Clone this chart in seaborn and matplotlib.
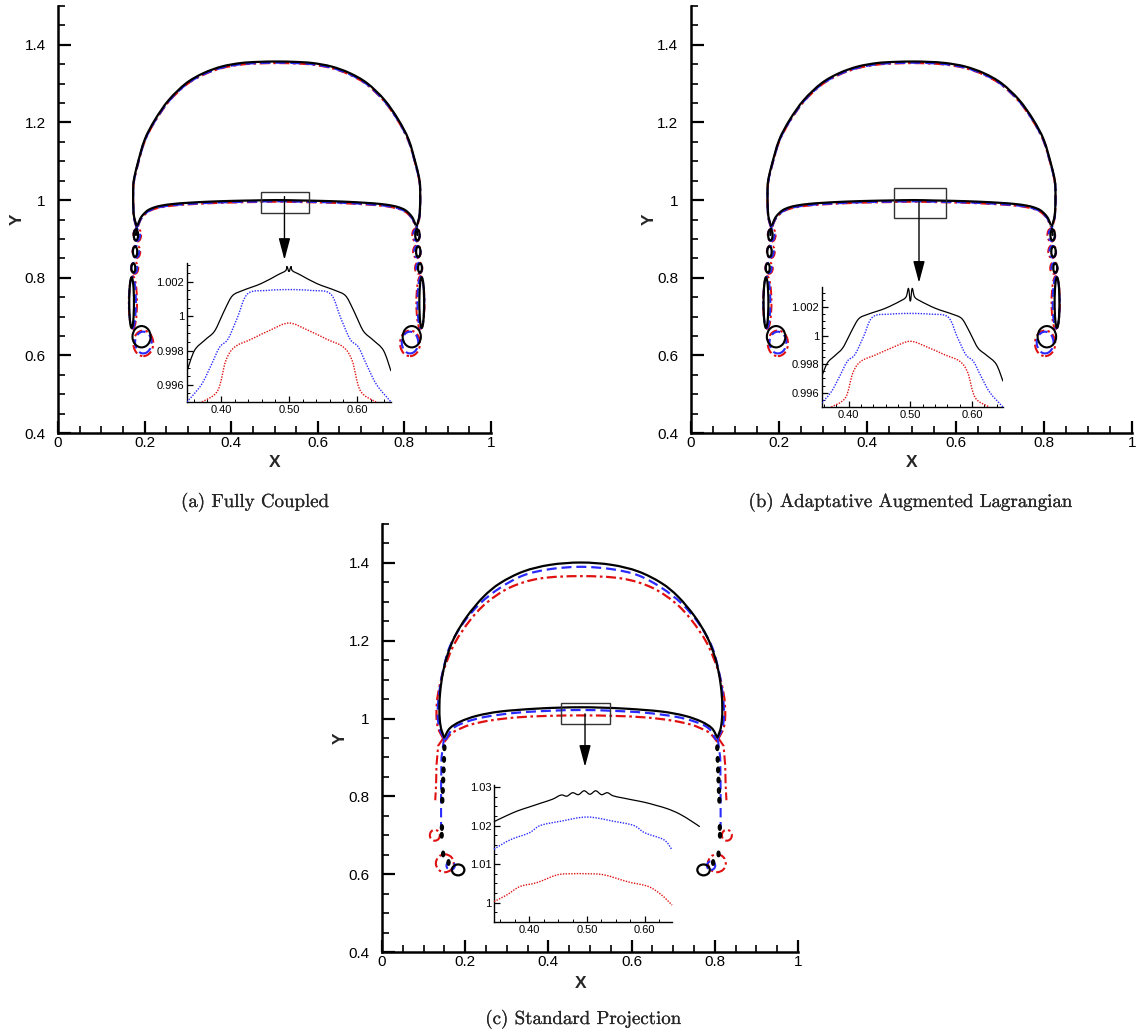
import numpy as np
import matplotlib
matplotlib.use("Agg")
import matplotlib.pyplot as plt
import matplotlib.patheffects as pe
import seaborn as sns
from matplotlib.patches import Ellipse, Rectangle, PathPatch
from matplotlib.path import Path
from matplotlib.ticker import MultipleLocator, FuncFormatter

sns.set_theme(style="ticks")
plt.rcParams["font.family"] = ["Liberation Sans", "DejaVu Sans"]

# ---------------- data ----------------
PANEL_TITLES = ["(a) Fully Coupled", "(b) Adaptative Augmented Lagrangian", "(c) Standard Projection"]
SERIES_COLORS = ["black", "#2a2aff", "#e01010"]

# panel (a)/(b): left half of bubble (junction -> top), mirrored about the center
A_CENTER = 0.505
B_CENTER = 0.500
A_DOME_X = [0.182, 0.176, 0.174, 0.1735, 0.175, 0.183, 0.200, 0.224, 0.256, 0.296, 0.336, 0.378, 0.422, 0.461, 0.505]
A_DOME_Y = [0.932, 0.955, 0.980, 1.020, 1.050, 1.090, 1.155, 1.207, 1.258, 1.301, 1.327, 1.344, 1.353, 1.356, 1.357]
A_FILM_X = [0.184, 0.190, 0.197, 0.208, 0.222, 0.240, 0.266, 0.300, 0.350, 0.405, 0.450, 0.505]
A_FILM_Y = [0.935, 0.952, 0.963, 0.974, 0.981, 0.986, 0.990, 0.993, 0.996, 0.998, 0.999, 1.000]
A_SERIES_DY = [0.0, -0.003, -0.004]
A_DROP_X = [0.180, 0.178, 0.174, 0.170]
A_DROP_Y = [0.910, 0.867, 0.825, 0.736]
A_DROP_W = [0.010, 0.010, 0.009, 0.011]
A_DROP_H = [0.028, 0.027, 0.024, 0.130]
A_LOOP_K = [0.193, 0.648, 0.042, 0.055]
A_LOOP_C = [0.197, 0.631, 0.046, 0.066]

# panel (c)
C_CENTER = 0.478
C_DOME_X = [
    [0.151, 0.143, 0.139, 0.138, 0.140, 0.146, 0.156, 0.175, 0.204, 0.244, 0.284, 0.340, 0.404, 0.478],
    [0.149, 0.138, 0.134, 0.135, 0.138, 0.146, 0.163, 0.195, 0.236, 0.284, 0.340, 0.404, 0.478],
    [0.147, 0.135, 0.131, 0.132, 0.135, 0.142, 0.151, 0.175, 0.212, 0.252, 0.308, 0.380, 0.478],
]
C_DOME_Y = [
    [0.949, 0.970, 0.996, 1.030, 1.070, 1.115, 1.159, 1.211, 1.262, 1.313, 1.348, 1.378, 1.395, 1.401],
    [0.949, 0.975, 1.005, 1.040, 1.070, 1.120, 1.185, 1.245, 1.296, 1.336, 1.368, 1.384, 1.390],
    [0.949, 0.975, 1.005, 1.040, 1.065, 1.100, 1.133, 1.194, 1.253, 1.298, 1.337, 1.360, 1.366],
]
C_FILM_X = [
    [0.151, 0.163, 0.188, 0.228, 0.284, 0.364, 0.428, 0.478],
    [0.153, 0.171, 0.204, 0.252, 0.324, 0.404, 0.478],
    [0.150, 0.165, 0.180, 0.212, 0.260, 0.324, 0.404, 0.478],
]
C_FILM_Y = [
    [0.953, 0.975, 0.992, 1.007, 1.018, 1.025, 1.028, 1.029],
    [0.945, 0.975, 0.992, 1.005, 1.015, 1.020, 1.022],
    [0.940, 0.960, 0.970, 0.984, 0.995, 1.003, 1.007, 1.008],
]
C_DROP_X = [0.150, 0.149, 0.148, 0.147, 0.146, 0.145, 0.144, 0.1435, 0.147, 0.160]
C_DROP_Y = [0.925, 0.895, 0.868, 0.842, 0.815, 0.790, 0.720, 0.700, 0.652, 0.630]
C_LOOP_K = [0.183, 0.611, 0.030, 0.028]
C_TAIL_R_X = [0.147, 0.135, 0.131, 0.130, 0.128]
C_TAIL_R_Y = [0.949, 0.930, 0.880, 0.830, 0.790]
C_TAIL_B_X = [0.149, 0.143, 0.142, 0.142]
C_TAIL_B_Y = [0.949, 0.900, 0.820, 0.720]
C_RINGS_R = [[0.127, 0.700, 0.024, 0.028], [0.151, 0.628, 0.043, 0.046]]
C_RINGS_B = [[0.165, 0.622, 0.020, 0.022]]

# insets
IA_K_X = [0.350, 0.361, 0.376, 0.390, 0.400, 0.407, 0.417, 0.432, 0.459, 0.483, 0.495, 0.497, 0.500, 0.503, 0.505, 0.517, 0.541, 0.568, 0.583, 0.593, 0.600, 0.610, 0.624, 0.639, 0.650]
IA_K_Y = [0.9968, 0.9980, 0.9986, 0.9991, 0.9999, 1.0005, 1.0012, 1.0015, 1.0019, 1.0024, 1.00265, 1.0029, 1.0026, 1.0029, 1.00265, 1.0024, 1.0019, 1.0015, 1.0012, 1.0005, 0.9999, 0.9991, 0.9986, 0.9980, 0.9968]
IB_K_X = [0.357, 0.366, 0.378, 0.390, 0.400, 0.407, 0.417, 0.432, 0.459, 0.483, 0.493, 0.497, 0.500, 0.503, 0.507, 0.517, 0.541, 0.568, 0.583, 0.593, 0.600, 0.610, 0.624, 0.639, 0.650]
IB_K_Y = [0.9972, 0.9981, 0.9986, 0.9991, 0.9999, 1.0005, 1.0012, 1.0015, 1.0019, 1.0024, 1.0027, 1.0033, 1.0024, 1.0033, 1.0027, 1.0024, 1.0019, 1.0015, 1.0012, 1.0005, 0.9999, 0.9991, 0.9986, 0.9980, 0.9968]
IA_B_X = [0.350, 0.371, 0.385, 0.398, 0.410, 0.424, 0.439, 0.468, 0.500, 0.532, 0.561, 0.576, 0.590, 0.602, 0.615, 0.629, 0.650]
IA_B_Y = [0.9950, 0.9960, 0.9971, 0.9982, 0.99865, 0.9999, 1.0013, 1.0015, 1.00155, 1.0015, 1.0013, 0.9999, 0.99865, 0.9982, 0.9971, 0.9960, 0.9950]
IA_R_X = [0.372, 0.395, 0.407, 0.420, 0.444, 0.473, 0.500, 0.527, 0.556, 0.580, 0.593, 0.605, 0.628]
IA_R_Y = [0.9950, 0.99565, 0.9974, 0.9982, 0.99865, 0.9992, 0.9996, 0.9992, 0.99865, 0.9982, 0.9974, 0.99565, 0.9950]
IC_K_X = [0.339, 0.360, 0.380, 0.400, 0.420, 0.440, 0.455, 0.465, 0.475, 0.485, 0.495, 0.505, 0.515, 0.525, 0.535, 0.545, 0.560, 0.580, 0.600, 0.620, 0.640, 0.660, 0.680, 0.695]
IC_K_Y = [1.0210, 1.0225, 1.0238, 1.0248, 1.0258, 1.0268, 1.0279, 1.0276, 1.0285, 1.0280, 1.0290, 1.0281, 1.0290, 1.0280, 1.0285, 1.0277, 1.0272, 1.0266, 1.0260, 1.0252, 1.0243, 1.0230, 1.0212, 1.0197]
IC_B_X = [0.339, 0.367, 0.400, 0.419, 0.454, 0.500, 0.546, 0.581, 0.600, 0.633, 0.647]
IC_B_Y = [1.0139, 1.0163, 1.0181, 1.0200, 1.0211, 1.0222, 1.0211, 1.0200, 1.0181, 1.0163, 1.0137]
IC_R_X = [0.339, 0.361, 0.384, 0.413, 0.448, 0.472, 0.500, 0.530, 0.571, 0.606, 0.629, 0.647]
IC_R_Y = [1.0003, 1.0020, 1.0042, 1.0052, 1.0072, 1.0075, 1.0075, 1.0072, 1.0054, 1.0042, 1.0020, 0.9994]

# zoom boxes [x0, y0, x1, y1] and arrows [x, y_start, y_tip]
RECT_A = [0.468, 0.966, 0.580, 1.022]
RECT_B = [0.460, 0.954, 0.578, 1.031]
RECT_C = [0.430, 0.986, 0.548, 1.041]
ARROW_A = [0.523, 1.009, 0.846]
ARROW_B = [0.517, 0.995, 0.787]
ARROW_C = [0.488, 1.012, 0.876]

# ---------------- drawing helpers ----------------
W, H = 1143, 1032
fig = plt.figure(figsize=(W / 100, H / 100), dpi=100)


def box(l, t, r, b):
    return [l / W, 1 - b / H, (r - l) / W, (b - t) / H]


MAIN_STYLES = [("-", 1.6), ((0, (4.5, 2.2)), 1.6), ((0, (4.5, 1.6, 1.2, 1.6)), 1.6)]
INSET_STYLES = [("-", 0.9), ((0, (1, 1)), 1.0), ((0, (1, 1)), 1.0)]


def line(ax, x, y, color, ls, lw, z=3):
    sns.lineplot(x=np.asarray(x, float), y=np.asarray(y, float), sort=False, estimator=None,
                 color=color, linestyle=ls, linewidth=lw, ax=ax, zorder=z)


def smooth_path(xs, ys):
    # smooth curve through the given points, drawn by matplotlib as Bezier segments
    P = np.column_stack([np.asarray(xs, float), np.asarray(ys, float)])
    n = len(P)
    verts = [P[0]]
    codes = [Path.MOVETO]
    for i in range(n - 1):
        p0 = P[i - 1] if i > 0 else P[i]
        p1, p2 = P[i], P[i + 1]
        p3 = P[i + 2] if i + 2 < n else P[i + 1]
        verts += [p1 + (p2 - p0) / 6.0, p2 - (p3 - p1) / 6.0, p2]
        codes += [Path.CURVE4] * 3
    return Path(verts, codes)


def curve(ax, xs, ys, color, ls, lw, z=3, clip=True):
    ax.add_patch(PathPatch(smooth_path(xs, ys), facecolor="none", edgecolor=color, linestyle=ls,
                           linewidth=lw, zorder=z, clip_on=clip))


def mirror(xs, ys, c):
    fx = list(xs) + [2 * c - v for v in reversed(xs[:-1])]
    fy = list(ys) + list(reversed(ys[:-1]))
    return fx, fy


def ell(ax, cx, cy, w, h, color, ls, lw, fill=False, z=3):
    ax.add_patch(Ellipse((cx, cy), w, h, facecolor=color if fill else "none", edgecolor=color,
                         linestyle=ls, linewidth=lw, zorder=z))


def style_main(ax, ylab_x, xlab_x=0.5, xlab_y=-0.052):
    ax.set_xlim(0, 1)
    ax.set_ylim(0.4, 1.5)
    sns.despine(ax=ax)
    for s in ["left", "bottom"]:
        ax.spines[s].set_linewidth(1.8)
        ax.spines[s].set_color("black")
    ax.xaxis.set_major_locator(MultipleLocator(0.2))
    ax.xaxis.set_minor_locator(MultipleLocator(0.05))
    ax.yaxis.set_major_locator(MultipleLocator(0.2))
    ax.yaxis.set_minor_locator(MultipleLocator(0.05))
    fmt = FuncFormatter(lambda v, p: f"{v:g}")
    ax.xaxis.set_major_formatter(fmt)
    ax.yaxis.set_major_formatter(fmt)
    ax.tick_params(which="major", direction="in", length=9, width=1.6, labelsize=11, colors="black")
    ax.tick_params(axis="x", which="major", pad=2)
    ax.tick_params(axis="y", which="major", pad=9)
    ax.tick_params(which="minor", direction="in", length=5, width=1.2, colors="black")
    ax.set_xlabel("X", fontweight="bold", fontsize=12.5)
    ax.set_ylabel("Y", fontweight="bold", fontsize=12.5)
    ax.yaxis.set_label_coords(ylab_x, 0.5)
    ax.xaxis.set_label_coords(xlab_x, xlab_y)
    ax.set_facecolor("white")


def style_inset(ax, xlim, ylim, ymaj, ymin, xmin, yfmt):
    ax.set_xlim(*xlim)
    ax.set_ylim(*ylim)
    ax.set_facecolor("none")
    sns.despine(ax=ax)
    for s in ["left", "bottom"]:
        ax.spines[s].set_linewidth(1.0)
        ax.spines[s].set_color("black")
    ax.set_xticks([0.40, 0.50, 0.60])
    ax.xaxis.set_minor_locator(MultipleLocator(xmin))
    ax.yaxis.set_major_locator(MultipleLocator(ymaj))
    ax.yaxis.set_minor_locator(MultipleLocator(ymin))
    ax.xaxis.set_major_formatter(FuncFormatter(lambda v, p: f"{v:.2f}"))
    ax.yaxis.set_major_formatter(FuncFormatter(yfmt))
    ax.tick_params(which="major", direction="in", length=4, width=0.9, labelsize=8, pad=2, colors="black")
    ax.tick_params(which="minor", direction="in", length=2, width=0.7, colors="black")
    ax.set_xlabel("")
    ax.set_ylabel("")


def draw_ab(ax, center):
    for i, col in enumerate(SERIES_COLORS):
        ls, lw = MAIN_STYLES[i]
        dy = A_SERIES_DY[i]
        dx, dyy = mirror(A_DOME_X, [v + dy for v in A_DOME_Y], center)
        curve(ax, dx, dyy, col, ls, lw, z=5 - i)
        fx, fy = mirror(A_FILM_X, [v + dy for v in A_FILM_Y], center)
        curve(ax, fx, fy, col, ls, lw, z=5 - i)
    for side in [1, -1]:
        def X(v):
            return v if side == 1 else 2 * center - v
        for x, y, w, h in zip(A_DROP_X, A_DROP_Y, A_DROP_W, A_DROP_H):
            ell(ax, X(x + 0.003), y, w + 0.008, h + 0.006, SERIES_COLORS[2], MAIN_STYLES[2][0], 1.4, z=3)
            ell(ax, X(x + 0.002), y, w + 0.005, h + 0.003, SERIES_COLORS[1], MAIN_STYLES[1][0], 1.4, z=3)
            ell(ax, X(x), y, w, h, "black", "-", 1.6, z=4)
        line(ax, [X(A_DOME_X[0]), X(A_DROP_X[0])], [A_DOME_Y[0], A_DROP_Y[0]], "black", "-", 1.6)
        ell(ax, X(A_LOOP_K[0]), A_LOOP_K[1], A_LOOP_K[2], A_LOOP_K[3], "black", "-", 1.5, z=4)
        ell(ax, X(A_LOOP_C[0]), A_LOOP_C[1], A_LOOP_C[2], A_LOOP_C[3], SERIES_COLORS[2], MAIN_STYLES[2][0], 1.5)
        ell(ax, X(A_LOOP_C[0]), A_LOOP_C[1] + 0.002, A_LOOP_C[2] - 0.008, A_LOOP_C[3] - 0.01,
            SERIES_COLORS[1], MAIN_STYLES[1][0], 1.5)


def draw_c(ax):
    c = C_CENTER
    for i, col in enumerate(SERIES_COLORS):
        ls, lw = MAIN_STYLES[i]
        dx, dy = mirror(C_DOME_X[i], C_DOME_Y[i], c)
        curve(ax, dx, dy, col, ls, lw, z=5 - i)
        fx, fy = mirror(C_FILM_X[i], C_FILM_Y[i], c)
        curve(ax, fx, fy, col, ls, lw, z=5 - i)
    for side in [1, -1]:
        def X(v):
            return v if side == 1 else 2 * c - v
        line(ax, [X(v) for v in C_TAIL_R_X], C_TAIL_R_Y, SERIES_COLORS[2], MAIN_STYLES[2][0], 1.5)
        line(ax, [X(v) for v in C_TAIL_B_X], C_TAIL_B_Y, SERIES_COLORS[1], MAIN_STYLES[1][0], 1.5)
        for x, y in zip(C_DROP_X, C_DROP_Y):
            ell(ax, X(x), y, 0.007, 0.014, "black", "-", 1.0, fill=True, z=4)
        ell(ax, X(C_LOOP_K[0]), C_LOOP_K[1], C_LOOP_K[2], C_LOOP_K[3], "black", "-", 1.6, z=4)
        for r in C_RINGS_R:
            ell(ax, X(r[0]), r[1], r[2], r[3], SERIES_COLORS[2], MAIN_STYLES[2][0], 1.5)
        for r in C_RINGS_B:
            ell(ax, X(r[0]), r[1], r[2], r[3], SERIES_COLORS[1], MAIN_STYLES[1][0], 1.5)


def zoom_marks(ax, rect, arrow):
    ax.add_patch(Rectangle((rect[0], rect[1]), rect[2] - rect[0], rect[3] - rect[1], fill=False,
                           edgecolor="#333333", linewidth=1.0, zorder=6))
    ax.annotate("", xy=(arrow[0], arrow[2]), xytext=(arrow[0], arrow[1]),
                arrowprops=dict(arrowstyle="-|>,head_length=0.6,head_width=0.16", color="black",
                                lw=1.0, shrinkA=0, shrinkB=0, mutation_scale=22), zorder=7)


# ---------------- panels ----------------
axA = fig.add_axes(box(58, 6, 491, 433))
draw_ab(axA, A_CENTER)
zoom_marks(axA, RECT_A, ARROW_A)
style_main(axA, -0.076)

axB = fig.add_axes(box(691, 6, 1132, 433))
draw_ab(axB, B_CENTER)
zoom_marks(axB, RECT_B, ARROW_B)
style_main(axB, -0.077)

axC = fig.add_axes(box(382, 524, 798, 952))
draw_c(axC)
zoom_marks(axC, RECT_C, ARROW_C)
style_main(axC, -0.082, xlab_x=0.477, xlab_y=-0.056)

gfmt = lambda v, p: f"{v:g}"

iA = fig.add_axes(box(187, 263, 391, 402))
for (xs, ys), col, (ls, lw) in zip([(IA_K_X, IA_K_Y), (IA_B_X, IA_B_Y), (IA_R_X, IA_R_Y)], SERIES_COLORS, INSET_STYLES):
    curve(iA, xs, ys, col, ls, lw)
style_inset(iA, (0.35, 0.65), (0.995, 1.0031), 0.002, 0.0005, 0.02, gfmt)

iB = fig.add_axes(box(822, 287, 1003, 407))
for (xs, ys), col, (ls, lw) in zip([(IB_K_X, IB_K_Y), (IA_B_X, IA_B_Y), (IA_R_X, IA_R_Y)], SERIES_COLORS, INSET_STYLES):
    curve(iB, xs, ys, col, ls, lw)
style_inset(iB, (0.357, 0.65), (0.995, 1.0034), 0.002, 0.0005, 0.02, gfmt)

iC = fig.add_axes(box(494, 785, 672, 922))
for (xs, ys), col, (ls, lw) in zip([(IC_K_X, IC_K_Y), (IC_B_X, IC_B_Y), (IC_R_X, IC_R_Y)], SERIES_COLORS, INSET_STYLES):
    curve(iC, xs, ys, col, ls, lw, clip=False)
style_inset(iC, (0.339, 0.647), (0.995, 1.0305), 0.01, 0.0025, 0.025, gfmt)

# captions
for (x, y), t in zip([(255, 502), (910, 502), (583, 1019)], PANEL_TITLES):
    fig.text(x / W, 1 - y / H, t, ha="center", va="center", fontsize=13.6, family=["cmr10", "DejaVu Serif"],
             path_effects=[pe.withStroke(linewidth=0.12, foreground="black")])

fig.savefig("out.png", dpi=100)
